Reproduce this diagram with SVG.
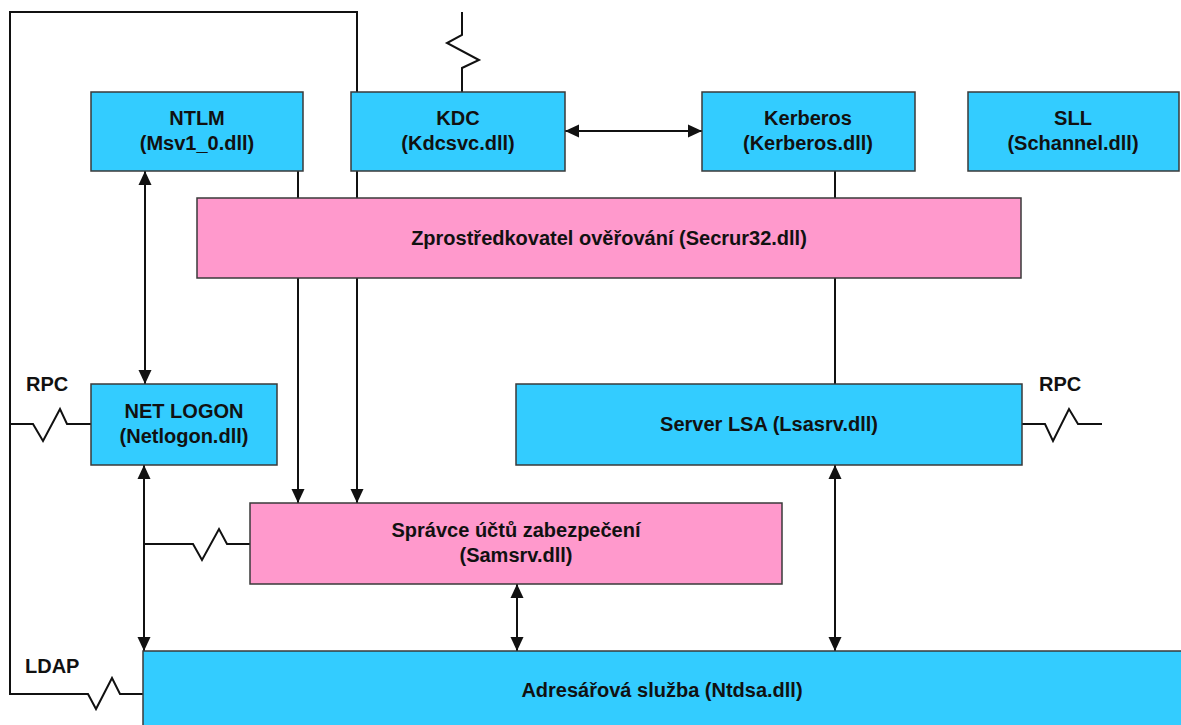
<svg xmlns="http://www.w3.org/2000/svg" width="1181" height="725" viewBox="0 0 1181 725">
  <style>
    .blue { fill: #33ccff; stroke: #3a3a3a; stroke-width: 1.5; }
    .pink { fill: #ff99cc; stroke: #3a3a3a; stroke-width: 1.5; }
    .lbl { font-family: "Liberation Sans", Arial, sans-serif; font-weight: bold; font-size: 20px; fill: #111; text-anchor: middle; }
    .side { font-family: "Liberation Sans", Arial, sans-serif; font-weight: bold; font-size: 20px; fill: #111; }
    .wire { fill: none; stroke: #111; stroke-width: 2; stroke-linejoin: miter; }
  </style>
  <defs>
    <marker id="tip" viewBox="0 0 14 14" refX="14" refY="7" markerWidth="14" markerHeight="14" markerUnits="userSpaceOnUse" orient="auto-start-reverse">
      <path d="M0,0.5 L14,7 L0,13.5 Z" fill="#111"/>
    </marker>
  </defs>

  <rect width="1181" height="725" fill="#ffffff"/>

  <!-- connectors -->
  <g id="connectors">
    <!-- LDAP link and outer loop down to KDC -->
    <path class="wire" d="M143,694 H120 L112,678 L96,709 L88,694 H10 V12 H357 V92"/>
    <!-- KDC to account manager -->
    <path class="wire" d="M357,171 V198"/>
    <path class="wire" d="M357,278 V503" marker-end="url(#tip)"/>
    <!-- NTLM to account manager -->
    <path class="wire" d="M298,171 V198"/>
    <path class="wire" d="M298,278 V503" marker-end="url(#tip)"/>
    <!-- KDC external link -->
    <path class="wire" d="M462,12 V35 L447,43 L479,60 L462,68 V92"/>
    <!-- KDC <-> Kerberos -->
    <path class="wire" d="M565,131 H702" marker-start="url(#tip)" marker-end="url(#tip)"/>
    <!-- Kerberos to LSA server -->
    <path class="wire" d="M835,171 V198"/>
    <path class="wire" d="M835,278 V384"/>
    <!-- NTLM <-> NET LOGON -->
    <path class="wire" d="M145,171 V384" marker-start="url(#tip)" marker-end="url(#tip)"/>
    <!-- NET LOGON RPC -->
    <path class="wire" d="M10,424 H33 L43,441 L60,409 L67,424 H91"/>
    <!-- NET LOGON <-> directory service -->
    <path class="wire" d="M144,465 V651" marker-start="url(#tip)" marker-end="url(#tip)"/>
    <!-- branch to account manager -->
    <path class="wire" d="M144,544 H193 L202,560 L219,529 L227,544 H250"/>
    <!-- account manager <-> directory service -->
    <path class="wire" d="M517,584 V651" marker-start="url(#tip)" marker-end="url(#tip)"/>
    <!-- LSA server <-> directory service -->
    <path class="wire" d="M835,465 V651" marker-start="url(#tip)" marker-end="url(#tip)"/>
    <!-- LSA server RPC -->
    <path class="wire" d="M1022,424 H1045 L1053,441 L1069,409 L1078,424 H1102"/>
  </g>

  <!-- link labels -->
  <text class="side" x="26" y="391">RPC</text>
  <text class="side" x="1039" y="391">RPC</text>
  <text class="side" x="25" y="673">LDAP</text>

  <!-- nodes -->
  <g id="ntlm">
    <rect class="blue" x="91" y="92" width="212" height="79"/>
    <text class="lbl" x="197" y="125">NTLM</text>
    <text class="lbl" x="197" y="150">(Msv1_0.dll)</text>
  </g>
  <g id="kdc">
    <rect class="blue" x="351" y="92" width="214" height="79"/>
    <text class="lbl" x="458" y="125">KDC</text>
    <text class="lbl" x="458" y="150">(Kdcsvc.dll)</text>
  </g>
  <g id="kerberos">
    <rect class="blue" x="702" y="92" width="213" height="79"/>
    <text class="lbl" x="808" y="125">Kerberos</text>
    <text class="lbl" x="808" y="150">(Kerberos.dll)</text>
  </g>
  <g id="sll">
    <rect class="blue" x="968" y="92" width="211" height="79"/>
    <text class="lbl" x="1073" y="125">SLL</text>
    <text class="lbl" x="1073" y="150">(Schannel.dll)</text>
  </g>
  <g id="secur32">
    <rect class="pink" x="197" y="198" width="824" height="80"/>
    <text class="lbl" x="609" y="245">Zprostředkovatel ověřování (Secrur32.dll)</text>
  </g>
  <g id="netlogon">
    <rect class="blue" x="91" y="384" width="186" height="81"/>
    <text class="lbl" x="184" y="418">NET LOGON</text>
    <text class="lbl" x="184" y="443">(Netlogon.dll)</text>
  </g>
  <g id="lsasrv">
    <rect class="blue" x="516" y="384" width="506" height="81"/>
    <text class="lbl" x="769" y="431">Server LSA (Lsasrv.dll)</text>
  </g>
  <g id="samsrv">
    <rect class="pink" x="250" y="503" width="532" height="81"/>
    <text class="lbl" x="516" y="537">Správce účtů zabezpečení</text>
    <text class="lbl" x="516" y="562">(Samsrv.dll)</text>
  </g>
  <g id="ntdsa">
    <rect class="blue" x="143" y="651" width="1045" height="85"/>
    <text class="lbl" x="662" y="697">Adresářová služba (Ntdsa.dll)</text>
  </g>
</svg>
